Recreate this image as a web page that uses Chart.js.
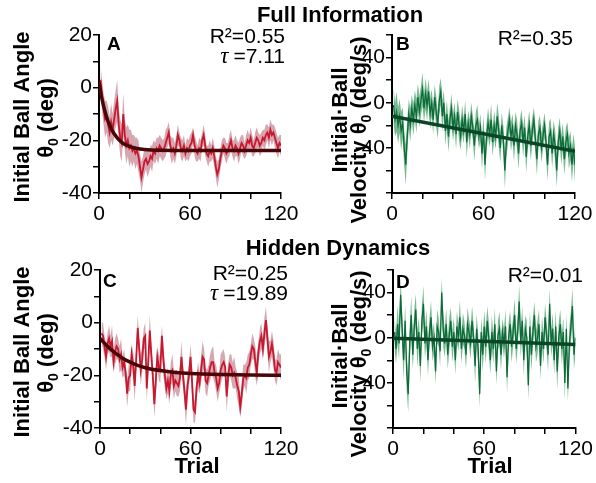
<!DOCTYPE html>
<html><head><meta charset="utf-8">
<script src="https://cdn.jsdelivr.net/npm/chart.js@4"></script>
<style>
html,body{margin:0;padding:0;background:#fff;width:596px;height:483px;overflow:hidden}
canvas{position:absolute}
</style></head><body>
<canvas id="cA" style="left:0px;top:0px" width="320" height="232"></canvas>
<canvas id="cB" style="left:296px;top:0px" width="300" height="232"></canvas>
<canvas id="cC" style="left:0px;top:232px" width="320" height="251"></canvas>
<canvas id="cD" style="left:296px;top:232px" width="300" height="251"></canvas>
<canvas id="heads" style="left:0px;top:0px;pointer-events:none" width="596" height="483"></canvas>
<script>
// ---------- DATA ----------
const trialLabels = [0, 60, 120];
const angleTickLabels = [20, 0, -20, -40];
const velTickLabels = [40, 0, -40];

const meanA = [
3,-3,-8,-12,-11,-14,-17,-13,-16,-12,
-8,-5,-14,-19,-21,-10,-18,-22,-20,-23,
-22,-24,-23,-25,-24,-26,-30,-34,-31,-28,
-27,-29,-28,-26,-27,-24,-25,-23,-24,-22,
-23,-24,-23,-21,-19,-17,-22,-24,-23,-25,
-22,-18,-20,-23,-24,-22,-25,-23,-24,-22,
-21,-18,-22,-24,-25,-23,-24,-20,-18,-22,
-25,-26,-24,-25,-23,-26,-30,-33,-31,-27,
-24,-22,-23,-25,-24,-22,-20,-23,-24,-22,
-23,-25,-23,-21,-22,-24,-22,-20,-21,-19,
-22,-23,-21,-19,-20,-22,-21,-19,-20,-18,
-17,-19,-16,-18,-17,-19,-21,-23,-21,-22];
const seA = [
5,6,6,7,6,7,6,7,6,7,
7,8,6,7,7,8,6,7,6,7,
6,6,5,6,5,6,5,6,5,5,
4,5,4,4,5,4,4,4,5,4,
4,4,4,5,4,4,4,5,4,4,
4,4,3,4,4,4,3,4,4,4,
4,3,4,4,3,4,4,3,4,4,
3,4,4,3,4,4,4,5,4,4,
4,3,4,4,3,4,4,3,4,4,
3,4,4,3,4,3,4,4,3,4,
4,3,4,4,3,4,4,3,4,4,
3,4,4,4,3,4,4,4,3,4];

const meanB = [
-2,-15,-8,-20,-12,-25,-18,-40,-55,-30,
-10,-20,-5,-15,-2,-12,5,-8,2,12,
-5,8,-3,10,-10,0,-15,5,-8,-20,
2,10,-12,0,-25,-10,-30,-15,-5,-22,
-12,-28,-8,-20,-30,-15,-25,-10,-35,-18,
-28,-12,-22,-38,-20,-15,-30,-22,-45,-25,
-55,-30,-18,-28,-15,-35,-20,-30,-12,-25,
-40,-20,-32,-60,-35,-25,-15,-30,-22,-38,
-20,-28,-45,-25,-18,-35,-22,-48,-30,-20,
-38,-25,-15,-32,-50,-28,-22,-40,-30,-20,
-35,-55,-30,-25,-45,-28,-38,-60,-35,-25,
-42,-30,-50,-35,-28,-45,-38,-55,-40,-55];
const seB = [
17,15,18,16,15,17,14,16,18,15,
13,15,12,14,13,15,12,14,13,15,
12,14,13,11,14,12,13,11,14,12,
13,12,14,11,13,12,14,11,13,12,
12,13,11,14,12,13,11,12,14,11,
13,12,11,14,12,13,11,12,14,13,
14,12,13,11,14,12,13,11,12,14,
13,11,12,16,13,12,11,13,12,14,
12,13,14,11,12,13,11,14,12,13,
13,12,11,13,14,12,11,13,12,11,
12,14,13,11,13,12,14,15,13,12,
13,12,14,13,11,14,13,15,12,16];

const meanC = [
-4,-5,-9,-13,-8,-6,-9,-7,-15,-11,
-9,-10,-14,-12,-17,-15,-19,-27,-21,-20,
-12,-16,-24,-14,-2,-10,-18,-14,-6,-5,
-25,-15,-3,-12,-20,-31,-22,-13,-17,-18,
-5,-14,-20,-25,-22,-26,-19,-18,-24,-22,
-23,-24,-21,-13,-20,-26,-33,-24,-20,-13,
-22,-33,-34,-25,-20,-23,-18,-13,-14,-22,
-23,-20,-17,-15,-15,-19,-21,-25,-23,-18,
-16,-15,-17,-28,-20,-16,-17,-20,-19,-21,
-24,-26,-32,-27,-21,-20,-21,-17,-16,-12,
-9,-10,-15,-19,-11,-7,-5,-10,-4,1,
-6,-13,-11,-8,-12,-18,-19,-15,-16,-17];
const seC = [
4,5,4,5,4,5,4,6,4,5,
5,4,5,6,4,5,4,5,5,6,
4,5,6,4,5,4,6,5,4,5,
5,4,6,5,4,5,6,4,5,5,
4,6,5,4,5,5,4,6,5,4,
5,4,5,6,4,5,6,5,4,5,
6,5,4,5,5,4,5,6,4,5,
5,4,5,5,6,4,5,5,4,6,
5,5,4,6,5,4,5,5,6,4,
5,6,4,5,5,4,6,5,5,4,
5,4,6,5,4,5,5,4,6,5,
5,6,4,5,5,4,5,5,4,5];

const meanD = [
5,-10,12,-5,38,8,-20,15,-30,-50,
-5,20,-15,10,25,-10,5,-25,15,30,
-5,10,-20,5,18,-8,0,-30,10,5,
-12,40,8,-5,12,-15,3,15,-8,5,
-20,10,0,18,-10,8,2,-15,12,5,
-5,15,0,-25,8,-10,-50,5,-15,10,
-8,15,0,-20,5,-10,12,-30,2,8,
-15,5,-5,10,-35,0,12,-8,5,20,
-10,5,32,-5,15,-20,8,0,-42,10,
-15,5,20,-8,0,12,-25,5,-10,18,
2,-15,30,-5,8,-20,10,-30,0,12,
-10,5,-40,8,-45,-5,10,28,-15,0];
const seD = [
15,13,17,14,16,15,18,14,17,16,
15,17,13,15,14,16,13,15,14,16,
13,15,14,12,15,13,14,12,15,13,
14,13,16,12,14,13,15,12,14,13,
13,14,12,15,13,14,12,13,15,12,
14,13,12,15,13,14,12,13,15,14,
15,13,14,12,15,13,14,12,13,15,
14,12,13,15,14,13,12,14,13,15,
13,14,15,12,13,14,12,15,13,14,
14,13,12,14,15,13,12,14,13,12,
13,15,14,12,14,13,15,16,14,13,
14,13,15,14,12,15,14,16,13,15];

// fitted curves
const fitXA = [0,2,4,6,8,10,13,16,20,25,30,40,60,120];
const fitYA = [2,-4.4,-9.1,-12.8,-15.5,-17.5,-19.7,-21.2,-22.3,-23.1,-23.5,-23.8,-23.9,-23.9];
const fitXB = [0,120];
const fitYB = [-12,-43];
const fitXC = [0,5,10,15,20,25,30,40,50,60,80,100,120];
const fitYC = [-6,-9,-11.5,-13.5,-15,-16.2,-17.1,-18.2,-18.9,-19.3,-19.7,-19.9,-20];
const fitXD = [0,120];
const fitYD = [-0.5,-6];

// ---------- DRAWING ----------
const SANS = "'Liberation Sans', Arial, sans-serif";
const annotations = {};

const annotPlugin = {
  id: 'annotDraw',
  afterDraw(chart) {
    const a = annotations[chart.canvas.id];
    if (!a) return;
    const ctx = chart.ctx;
    ctx.save();
    ctx.translate(-a.ox, -a.oy);
    a.items.forEach(f => f(ctx));
    ctx.restore();
  }
};

function yTitle(x1, cy1, t1, x2, cy2, pre, sub, post) {
  return ctx => {
    ctx.save();
    ctx.fillStyle = '#000';
    ctx.textBaseline = 'alphabetic';
    ctx.font = 'bold 22px ' + SANS;
    ctx.translate(x1, cy1);
    ctx.rotate(-Math.PI / 2);
    ctx.textAlign = 'center';
    ctx.fillText(t1, 0, 0);
    ctx.restore();

    ctx.save();
    ctx.fillStyle = '#000';
    ctx.textBaseline = 'alphabetic';
    ctx.translate(x2, cy2);
    ctx.rotate(-Math.PI / 2);
    ctx.textAlign = 'left';
    ctx.font = 'bold 22px ' + SANS;
    const w1 = ctx.measureText(pre).width;
    const w3 = ctx.measureText(post).width;
    ctx.font = 'bold 14px ' + SANS;
    const w2 = ctx.measureText(sub).width;
    let x = -(w1 + w2 + w3) / 2;
    ctx.font = 'bold 22px ' + SANS;
    ctx.fillText(pre, x, 0); x += w1;
    ctx.font = 'bold 14px ' + SANS;
    ctx.fillText(sub, x, 5); x += w2;
    ctx.font = 'bold 22px ' + SANS;
    ctx.fillText(post, x, 0);
    ctx.restore();
  };
}
function txt(s, x, y, font, align) {
  return ctx => {
    ctx.save();
    ctx.fillStyle = '#000';
    ctx.font = font;
    ctx.textAlign = align || 'left';
    ctx.textBaseline = 'alphabetic';
    ctx.fillText(s, x, y);
    ctx.restore();
  };
}
function tauText(val, xr, y) {
  return ctx => {
    ctx.save();
    ctx.fillStyle = '#000';
    ctx.textBaseline = 'alphabetic';
    ctx.textAlign = 'right';
    ctx.font = '21px ' + SANS;
    const s = '=' + val;
    ctx.fillText(s, xr, y);
    const w = ctx.measureText(s).width;
    ctx.font = 'italic 23px "Liberation Serif", serif';
    ctx.fillText('\u03C4', xr - w - 5, y);
    ctx.restore();
  };
}

function pts(arr) { return arr.map((v, i) => ({ x: i + 1, y: v })); }
function band(mean, se, sign) { return mean.map((v, i) => ({ x: i + 1, y: v + sign * se[i] })); }
function fitPts(xs, ys) { return xs.map((x, i) => ({ x: x, y: ys[i] })); }

function makePanel(cfg) {
  const cv = document.getElementById(cfg.id);
  const ox = cfg.ox, oy = cfg.oy, cw = cv.width, ch = cv.height;
  const area = cfg.area;
  annotations[cfg.id] = { ox, oy, items: cfg.items };
  const tickFont = { family: SANS, size: 21 };
  new Chart(cv, {
    type: 'line',
    data: {
      datasets: [
        { data: band(cfg.mean, cfg.se, 1), fill: '+1', backgroundColor: cfg.bandColor, borderWidth: 0, pointRadius: 0, tension: 0, order: 3 },
        { data: band(cfg.mean, cfg.se, -1), fill: false, borderWidth: 0, pointRadius: 0, tension: 0, order: 3 },
        { data: pts(cfg.mean), fill: false, borderColor: cfg.lineColor, borderWidth: cfg.lineWidth, pointRadius: 0, tension: 0, order: 2 },
        { data: fitPts(cfg.fitX, cfg.fitY), fill: false, borderColor: cfg.fitColor, borderWidth: 3.5, pointRadius: 0, cubicInterpolationMode: 'monotone', order: 1 }
      ]
    },
    options: {
      responsive: false,
      animation: false,
      devicePixelRatio: 1,
      layout: { autoPadding: false, padding: { left: 0, top: area.top - oy, right: ox + cw - area.right, bottom: 0 } },
      plugins: { legend: { display: false }, tooltip: { enabled: false } },
      scales: {
        x: {
          type: 'linear', min: 0, max: 120,
          afterFit: s => { s.height = oy + ch - area.bottom; },
          ticks: { stepSize: 20, autoSkip: false, maxRotation: 0, color: '#000', font: tickFont, padding: 3,
                   callback: v => trialLabels.includes(v) ? String(v) : '' },
          grid: { drawOnChartArea: false, drawTicks: true, tickLength: 6, color: '#000', lineWidth: 1.5 },
          border: { display: true, color: '#000', width: 2 }
        },
        y: {
          type: 'linear', min: cfg.yMin, max: cfg.yMax,
          afterFit: s => { s.width = area.left - ox; },
          ticks: { stepSize: cfg.yStep, autoSkip: false, color: '#000', font: tickFont, padding: 1,
                   callback: v => cfg.yLabels.includes(v) ? String(v) : '' },
          grid: { drawOnChartArea: false, drawTicks: true, tickLength: 6, color: '#000', lineWidth: 1.5 },
          border: { display: true, color: '#000', width: 2 }
        }
      }
    },
    plugins: [annotPlugin]
  });
}

const redBand = 'rgba(175,80,100,0.5)', redLine = '#c8182f', redFit = '#4a0606';
const grnBand = 'rgba(30,140,70,0.6)', grnLine = '#0d6a39', grnFit = '#0a4528';

makePanel({ id: 'cA', ox: 0, oy: 0, area: { left: 99, right: 281, top: 35, bottom: 193 },
  yMin: -40, yMax: 20, yStep: 10, yLabels: angleTickLabels, lineWidth: 1.8,
  mean: meanA, se: seA, fitX: fitXA, fitY: fitYA, bandColor: redBand, lineColor: redLine, fitColor: redFit,
  items: [
    yTitle(29, 117, 'Initial Ball Angle', 53, 118, '\u03B8', '0', ' (deg)'),
    txt('A', 107, 50, 'bold 19px ' + SANS),
    txt('R\u00B2=0.55', 285, 43, '21px ' + SANS, 'right'),
    tauText('7.11', 285, 63)
  ] });

makePanel({ id: 'cB', ox: 296, oy: 0, area: { left: 392, right: 575, top: 35, bottom: 193 },
  yMin: -80, yMax: 60, yStep: 20, yLabels: velTickLabels, lineWidth: 1.3,
  mean: meanB, se: seB, fitX: fitXB, fitY: fitYB, bandColor: grnBand, lineColor: grnLine, fitColor: grnFit,
  items: [
    yTitle(347, 120, 'Initial\u00B7Ball', 366, 130, 'Velocity \u03B8', '0', ' (deg/s)'),
    txt('B', 396, 50, 'bold 19px ' + SANS),
    txt('R\u00B2=0.35', 573, 45, '21px ' + SANS, 'right')
  ] });

makePanel({ id: 'cC', ox: 0, oy: 232, area: { left: 100, right: 281, top: 270, bottom: 428 },
  yMin: -40, yMax: 20, yStep: 10, yLabels: angleTickLabels, lineWidth: 1.8,
  mean: meanC, se: seC, fitX: fitXC, fitY: fitYC, bandColor: redBand, lineColor: redLine, fitColor: redFit,
  items: [
    yTitle(29, 352, 'Initial Ball Angle', 53, 353, '\u03B8', '0', ' (deg)'),
    txt('C', 103, 287, 'bold 19px ' + SANS),
    txt('R\u00B2=0.25', 288, 280, '21px ' + SANS, 'right'),
    tauText('19.89', 288, 300),
    txt('Trial', 197, 473, 'bold 22px ' + SANS, 'center')
  ] });

makePanel({ id: 'cD', ox: 296, oy: 232, area: { left: 393, right: 576, top: 270, bottom: 428 },
  yMin: -80, yMax: 60, yStep: 20, yLabels: velTickLabels, lineWidth: 1.3,
  mean: meanD, se: seD, fitX: fitXD, fitY: fitYD, bandColor: grnBand, lineColor: grnLine, fitColor: grnFit,
  items: [
    yTitle(347, 356, 'Initial\u00B7Ball', 366, 364, 'Velocity \u03B8', '0', ' (deg/s)'),
    txt('D', 396, 288, 'bold 19px ' + SANS),
    txt('R\u00B2=0.01', 583, 282, '21px ' + SANS, 'right'),
    txt('Trial', 490, 473, 'bold 22px ' + SANS, 'center')
  ] });

// section headings
(function () {
  const ctx = document.getElementById('heads').getContext('2d');
  ctx.fillStyle = '#000';
  ctx.font = 'bold 22px ' + SANS;
  ctx.textAlign = 'center';
  ctx.textBaseline = 'alphabetic';
  ctx.fillText('Full Information', 340, 22);
  ctx.fillText('Hidden Dynamics', 338, 255);
})();
</script>
</body></html>
